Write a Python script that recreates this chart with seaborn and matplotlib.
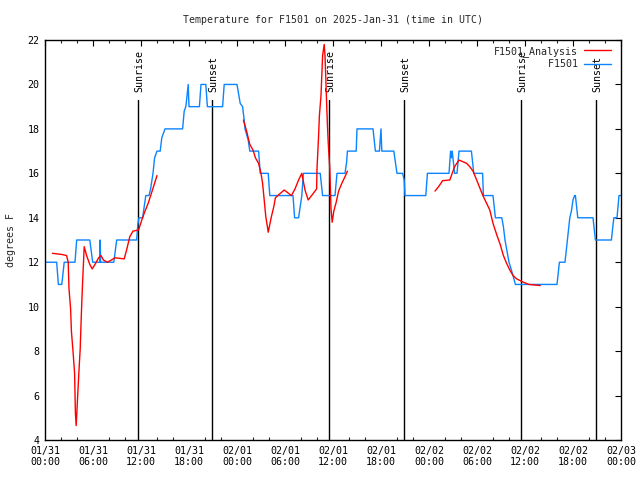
import matplotlib
matplotlib.use("Agg")
import matplotlib.pyplot as plt
from matplotlib.lines import Line2D
import seaborn as sns
import pandas as pd
import numpy as np

# ---- data (hours since 2025-01-31 00:00 UTC) ----
obs_hours = [0, 1.46, 1.67, 2.1, 2.4, 3.75, 3.96, 5.6, 5.96, 6.85, 6.9, 6.95, 8.6, 8.96,
             11.46, 11.6, 11.75, 12.2, 12.4, 12.6, 13.0, 13.2, 13.5, 13.7, 14.0, 14.4, 14.6,
             15.0, 17.2, 17.4, 17.6, 17.7, 17.9, 18.0, 19.3, 19.5, 20.1, 20.3, 22.2, 22.4,
             24.0, 24.4, 24.7, 24.9, 25.0, 25.4, 25.6, 26.7, 26.9, 27.9, 28.1, 31.0, 31.2,
             31.7, 32.1, 32.3, 34.4, 34.7, 36.25, 36.5, 37.5, 37.7, 37.8, 38.9, 39.0, 41.0,
             41.3, 41.8, 42.0, 42.1, 43.6, 44.0, 44.7, 44.9, 45.0, 47.6, 47.8, 50.5, 50.7,
             50.8, 50.9, 51.2, 51.5, 51.75, 53.3, 53.6, 54.7, 54.8, 56.0, 56.3, 57.1, 57.3,
             57.5, 57.8, 58.0, 58.3, 58.5, 58.8, 64.0, 64.3, 65.0, 65.3, 65.6, 65.8, 66.0,
             66.2, 66.3, 66.6, 66.8, 68.5, 68.8, 70.8, 71.1, 71.5, 71.75, 72.0]
obs_temps = [12, 12, 11, 11, 12, 12, 13, 13, 12, 12, 13, 12, 12, 13,
             13, 13.7, 14, 14, 14.5, 15, 15, 15.3, 16, 16.7, 17, 17, 17.6,
             18, 18, 18.8, 19, 19.3, 20, 19, 19, 20, 20, 19, 19, 20,
             20, 19.15, 19, 18.4, 18, 17.5, 17, 17, 16, 16, 15, 15, 14,
             14, 15, 16, 16, 15, 15, 16, 16, 16.5, 17, 17, 18, 18,
             17, 17, 18, 17, 17, 16, 16, 15.7, 15, 15, 16, 16, 17,
             16.7, 17, 16, 16, 17, 17, 16, 16, 15, 15, 14, 14, 13.6,
             13, 12.4, 12, 11.65, 11.4, 11, 11, 12, 12, 13, 14, 14.3, 14.8,
             15, 15, 14, 14, 14, 13, 13, 14, 14, 15, 15]

ana_hours_1 = [0.92, 2.1, 2.7, 2.9, 3.0, 3.2, 3.3, 3.5, 3.7, 3.75, 3.8, 3.9, 4.1, 4.25,
               4.4, 4.5, 4.6, 4.7, 4.9, 5.2, 5.6, 5.9, 6.25, 6.7, 7.0, 7.3, 7.8, 8.3,
               8.75, 9.9, 10.2, 10.6, 11.0, 11.7, 12.1, 12.5, 12.9, 13.3, 14.0]
ana_temps_1 = [12.4, 12.35, 12.3, 12.0, 10.8, 9.9, 8.9, 8.0, 7.0, 6.1, 5.2, 4.65, 6.1, 7.15,
               8.1, 9.2, 10.2, 11.1, 12.7, 12.3, 11.9, 11.7, 11.9, 12.2, 12.3, 12.1, 12.0, 12.1,
               12.2, 12.15, 12.55, 13.15, 13.4, 13.45, 13.9, 14.3, 14.65, 15.1, 15.9]
ana_hours_2 = [24.8, 25.2, 25.6, 26.0, 26.3, 26.7, 27.0, 27.2, 27.4, 27.6, 27.8, 27.9,
               28.3, 28.6, 28.8, 29.1, 29.9, 30.8, 31.25, 31.7, 32.1, 32.5, 32.9, 33.75,
               33.95, 34.0, 34.2, 34.3, 34.5, 34.6, 34.7, 34.9, 35.0, 35.1, 35.2, 35.3,
               35.4, 35.6, 35.75, 35.9, 36.1, 36.4, 36.7, 37.1, 37.5, 37.8]
ana_temps_2 = [18.4, 17.9, 17.3, 17.05, 16.7, 16.45, 16.0, 15.55, 14.8, 14.05, 13.6, 13.35,
               14.05, 14.5, 14.9, 15.0, 15.25, 15.0, 15.3, 15.7, 16.0, 15.25, 14.8, 15.2,
               15.3, 16.2, 17.7, 18.6, 19.5, 20.4, 21.3, 21.8, 21.3, 20.3, 19.2, 18.2,
               17.4, 16.2, 14.4, 13.8, 14.3, 14.7, 15.2, 15.55, 15.85, 16.1]
ana_hours_3 = [48.75, 49.2, 49.7, 50.6, 50.9, 51.2, 51.75, 52.7, 53.1, 53.5, 53.96, 54.4,
               54.8, 55.2, 55.6, 56.0, 56.5, 56.9, 57.3, 57.7, 58.1, 58.5, 58.96, 59.8,
               60.5, 61.9]
ana_temps_3 = [15.2, 15.4, 15.67, 15.7, 16.0, 16.3, 16.6, 16.45, 16.3, 16.1, 15.7, 15.3,
               14.95, 14.65, 14.35, 13.75, 13.2, 12.8, 12.3, 11.95, 11.65, 11.4, 11.25, 11.1,
               11.0, 10.95]

sun_names = ["Sunrise", "Sunset", "Sunrise", "Sunset", "Sunrise", "Sunset"]
sun_hours = [11.66, 20.91, 35.54, 44.91, 59.54, 68.91]

tick_hours = [0, 6, 12, 18, 24, 30, 36, 42, 48, 54, 60, 66, 72]
tick_labels = ["01/31\n00:00", "01/31\n06:00", "01/31\n12:00", "01/31\n18:00",
               "02/01\n00:00", "02/01\n06:00", "02/01\n12:00", "02/01\n18:00",
               "02/02\n00:00", "02/02\n06:00", "02/02\n12:00", "02/02\n18:00",
               "02/03\n00:00"]
y_ticks = [4, 6, 8, 10, 12, 14, 16, 18, 20, 22]

title = "Temperature for F1501 on 2025-Jan-31 (time in UTC)"
legend_labels = ["F1501_Analysis", "F1501"]

# ---- frames ----
obs = pd.DataFrame({"hour": obs_hours, "temp": obs_temps})
ana = pd.concat([
    pd.DataFrame({"hour": ana_hours_1, "temp": ana_temps_1, "seg": 1}),
    pd.DataFrame({"hour": ana_hours_2, "temp": ana_temps_2, "seg": 2}),
    pd.DataFrame({"hour": ana_hours_3, "temp": ana_temps_3, "seg": 3}),
], ignore_index=True)

sns.set_style("white")
plt.rcParams["font.family"] = ["DejaVu Sans Mono", "DejaVu Sans"]
plt.rcParams["font.size"] = 7.2

fig = plt.figure(figsize=(6.4, 4.8), dpi=100)
ax = fig.add_axes([45 / 640, 40 / 480, 576 / 640, 400 / 480])

for name, h in zip(sun_names, sun_hours):
    ax.axvline(h, ymin=0, ymax=0.85, color="black", lw=1.0, zorder=1)
    ax.text(h + 0.08, 0.87, name, transform=ax.get_xaxis_transform(), rotation=90,
            ha="center", va="bottom", fontsize=7.2, color="black")

sns.lineplot(data=ana, x="hour", y="temp", units="seg", estimator=None, sort=False,
             color="#ff0000", lw=1.0, ax=ax, zorder=3)
sns.lineplot(data=obs, x="hour", y="temp", estimator=None, sort=False,
             color="#0a84ff", lw=1.0, ax=ax, zorder=2)

ax.set_xlim(0, 72)
ax.set_ylim(4, 22)
ax.set_xticks(tick_hours)
ax.set_xticklabels(tick_labels)
ax.set_xticks(np.arange(0, 73, 2), minor=True)
ax.set_yticks(y_ticks)
ax.set_yticklabels([str(v) for v in y_ticks])
ax.tick_params(axis="both", which="major", direction="in", length=4, width=0.8,
               top=True, right=True, labelsize=7.2, colors="black", pad=4)
ax.tick_params(axis="x", which="minor", direction="in", length=2, width=0.8,
               top=True, bottom=True)
for s in ax.spines.values():
    s.set_color("black")
    s.set_linewidth(1.0)
ax.set_xlabel("")
ax.set_ylabel("degrees F", fontsize=7.2, labelpad=8)
fig.text(333 / 640, 1 - 20 / 480, title, ha="center", va="center", fontsize=7.1)

width = max(len(t) for t in legend_labels)
padded = [t.rjust(width) for t in legend_labels]
handles = [Line2D([], [], color="#ff0000", lw=1.0), Line2D([], [], color="#0a84ff", lw=1.0)]
ax.legend(handles, padded, loc="upper right",
          frameon=False, markerfirst=False, fontsize=7.2, handlelength=2.7,
          handletextpad=0.6, labelspacing=0.25, borderaxespad=0.2,
          bbox_to_anchor=(0.993, 1.0))

fig.savefig("out.png", dpi=100)
